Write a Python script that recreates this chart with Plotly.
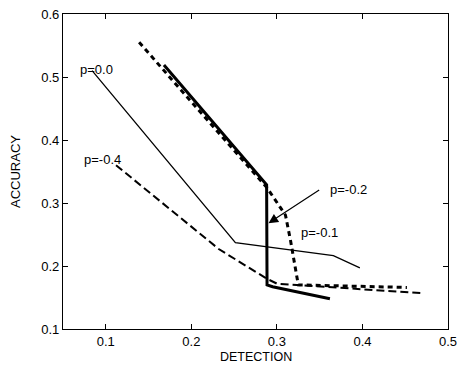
import plotly.graph_objects as go

# p = 0.0 (thin solid)
det_p00 = [0.084, 0.2515, 0.366, 0.397]
acc_p00 = [0.510, 0.237, 0.2165, 0.197]
# p = -0.4 (dashed)
det_p04 = [0.112, 0.232, 0.288, 0.300, 0.468]
acc_p04 = [0.360, 0.227, 0.180, 0.172, 0.157]
# p = -0.1 (thick short dashes)
det_p01 = [0.139, 0.288, 0.310, 0.316, 0.325, 0.452]
acc_p01 = [0.555, 0.325, 0.281, 0.240, 0.170, 0.166]
# p = -0.2 (thick solid)
det_p02 = [0.168, 0.288, 0.2885, 0.295, 0.362]
acc_p02 = [0.519, 0.329, 0.170, 0.167, 0.148]

x_ticks = [0.1, 0.2, 0.3, 0.4, 0.5]
y_ticks = [0.1, 0.2, 0.3, 0.4, 0.5, 0.6]

fig = go.Figure()
fig.add_trace(go.Scatter(x=det_p00, y=acc_p00, mode="lines",
                         line=dict(color="black", width=1.3), name="p=0.0"))
fig.add_trace(go.Scatter(x=det_p04, y=acc_p04, mode="lines",
                         line=dict(color="black", width=2, dash="8px,4px"), name="p=-0.4"))
fig.add_trace(go.Scatter(x=det_p01, y=acc_p01, mode="lines",
                         line=dict(color="black", width=3, dash="5px,4px"), name="p=-0.1"))
fig.add_trace(go.Scatter(x=det_p02, y=acc_p02, mode="lines",
                         line=dict(color="black", width=3), name="p=-0.2"))

font = dict(family="Liberation Sans, Arial, sans-serif", size=13, color="black")
title_font = dict(family="Liberation Sans, Arial, sans-serif", size=12.5, color="black")

fig.add_annotation(x=0.0672, y=0.512, text="p=0.0", showarrow=False, xanchor="left", font=font)
fig.add_annotation(x=0.0718, y=0.3685, text="p=-0.4", showarrow=False, xanchor="left", font=font)
fig.add_annotation(x=0.3259, y=0.2528, text="p=-0.1", showarrow=False, xanchor="left", font=font)
fig.add_annotation(x=0.3603, y=0.3222, text="p=-0.2", showarrow=False, xanchor="left", font=font)
fig.add_annotation(x=0.2902, y=0.268, ax=0.3512, ay=0.3222, xref="x", yref="y",
                   axref="x", ayref="y", text="", showarrow=True,
                   arrowhead=2, arrowsize=1.6, arrowwidth=1.2, arrowcolor="black")

# x-axis title placed as a paper annotation at the very bottom
fig.add_annotation(x=0.275, y=0, xref="x", yref="paper", yanchor="bottom",
                   yshift=-37, text="DETECTION", showarrow=False, font=title_font)

fig.update_layout(
    width=449, height=358,
    margin=dict(l=55, r=9, t=6, b=37),
    paper_bgcolor="white", plot_bgcolor="white",
    showlegend=False,
    font=font,
    xaxis=dict(range=[0.05, 0.5], tickvals=x_ticks, ticktext=[f"{v:.1f}" for v in x_ticks],
               ticks="inside", ticklen=5, tickcolor="black", showline=True, linecolor="black",
               linewidth=1.2, mirror="ticks", showgrid=False, zeroline=False, automargin=False,
               ticklabeloverflow="allow"),
    yaxis=dict(range=[0.1, 0.6], tickvals=y_ticks, ticktext=[f"{v:.1f}" for v in y_ticks],
               ticks="inside", ticklen=5, tickcolor="black", showline=True, linecolor="black",
               linewidth=1.2, mirror="ticks", showgrid=False, zeroline=False, automargin=False,
               ticklabeloverflow="allow",
               title=dict(text="ACCURACY", standoff=17, font=font)),
)

fig.write_html("out.html")
